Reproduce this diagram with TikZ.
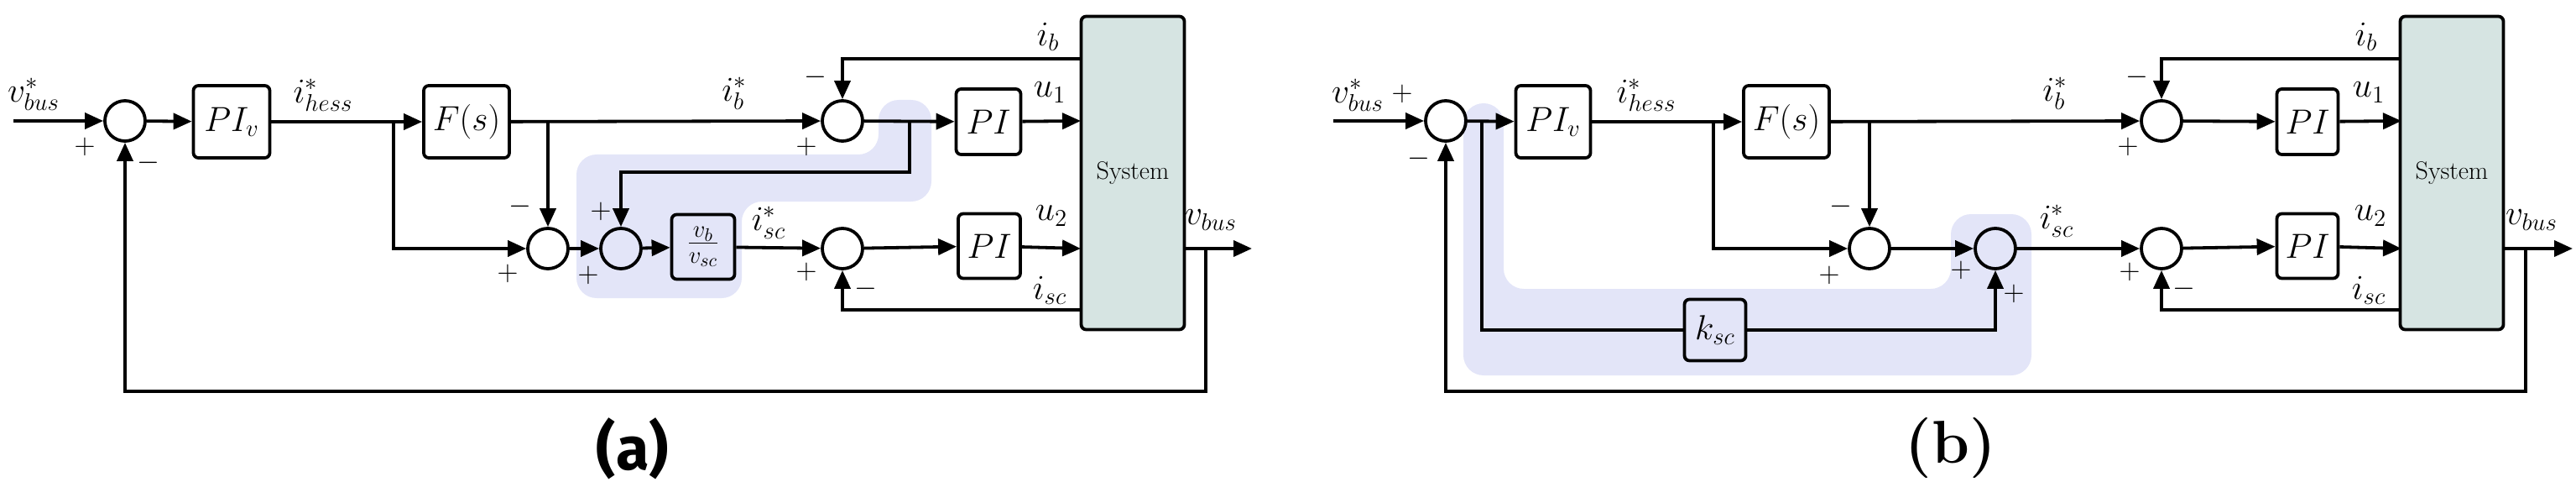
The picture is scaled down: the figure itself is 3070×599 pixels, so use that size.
\documentclass[tikz,border=0pt]{standalone}
\usepackage{fontspec}
\newfontfamily\capsans{Fira Sans}
\usetikzlibrary{arrows.meta}
\begin{document}
\begin{tikzpicture}[x=0.5pt,y=-0.5pt,
  sig/.style={line width=1.9pt,-{Triangle[length=11pt,width=9.5pt]}},
  ln/.style={line width=1.9pt},
  sum/.style={circle,draw,line width=1.9pt,minimum size=24pt,inner sep=0pt},
  blk/.style={draw,line width=1.9pt,rounded corners=3pt,inner sep=0pt,font=\fontsize{22}{26}\selectfont},
  sys/.style={draw,line width=1.9pt,rounded corners=3pt,fill=sysc,minimum width=61.5pt,minimum height=186.5pt,font=\fontsize{15}{18}\selectfont},
  lab/.style={font=\fontsize{20}{24}\selectfont,inner sep=0pt},
  sg/.style={font=\fontsize{18}{20}\selectfont,inner sep=0pt},
  hl/.style={fill=hlc,draw=none,rounded corners=12pt}]
\definecolor{sysc}{HTML}{D6E4E2}
\definecolor{hlc}{HTML}{E3E5F8}
\useasboundingbox (0,0) rectangle (3070,599);
% ---------------- panel (a) ----------------
\fill[hl] (1047,119) -- (1110,119) -- (1110,240) -- (884,240) -- (884,355) -- (687,355) -- (687,184) -- (1047,184) -- cycle;
\node[sum] (a1) at (149,144) {};
\node[blk,minimum width=45.5pt,minimum height=43pt] (aPIv) at (276,145) {$PI_v$};
\node[blk,minimum width=51pt,minimum height=43pt] (aF) at (556,145) {$F(s)$};
\node[sum] (a2) at (1004,144) {};
\node[blk,minimum width=38.5pt,minimum height=39pt] (aPI1) at (1178,145) {$PI$};
\node[sys] (aS) at (1350,206) {System};
\node[sum] (a3) at (653,296) {};
\node[sum] (a4) at (740,296) {};
\node[blk,minimum width=37.5pt,minimum height=38.5pt] (aK) at (838,294) {$\frac{v_b}{v_{sc}}$};
\node[sum] (a5) at (1004,296) {};
\node[blk,minimum width=37pt,minimum height=38.5pt] (aPI2) at (1179,293) {$PI$};
\coordinate (ain) at (16,144);
\coordinate (ah) at (469,144);
\coordinate (af) at (653,144);
\coordinate (ab) at (1084,144);
\coordinate (aib) at (1288,70);
\coordinate (au1) at (1288,144);
\coordinate (au2) at (1288,296);
\coordinate (aisc) at (1288,369);
\coordinate (avo) at (1411,296);
\coordinate (avb) at (1437,296);
\coordinate (aout) at (1492,296);
\draw[sig] (ain) -- (a1);
\draw[sig] (a1) -- (aPIv);
\draw[sig] (aPIv) -- (aF);
\draw[sig] (ah) |- (a3);
\draw[sig] (aF) -- (a2);
\draw[sig] (af) -- (a3);
\draw[sig] (a2) -- (aPI1);
\draw[sig] (ab) -- (1084,205) -| (a4);
\draw[sig] (aib) -| (a2);
\draw[sig] (aPI1) -- (au1);
\draw[sig] (a3) -- (a4);
\draw[sig] (a4) -- (aK);
\draw[sig] (aK) -- (a5);
\draw[sig] (a5) -- (aPI2);
\draw[sig] (aPI2) -- (au2);
\draw[sig] (aisc) -| (a5);
\draw[sig] (avo) -- (aout);
\draw[sig] (avb) |- (149,466) -- (a1);
\node[lab] at (40,112) {$v^*_{bus}$};
\node[lab] at (385,113) {$i^*_{hess}$};
\node[lab] at (875,111) {$i^*_b$};
\node[lab] at (1249,44) {$i_b$};
\node[lab] at (1251,110) {$u_1$};
\node[lab] at (916,265) {$i^*_{sc}$};
\node[lab] at (1253,257) {$u_2$};
\node[lab] at (1251,346) {$i_{sc}$};
\node[lab] at (1443,262) {$v_{bus}$};
\node[sg] at (101,175) {$+$};
\node[sg] at (177,194) {$-$};
\node[sg] at (972,92) {$-$};
\node[sg] at (961,175) {$+$};
\node[sg] at (620,246) {$-$};
\node[sg] at (605,326) {$+$};
\node[sg] at (716,252) {$+$};
\node[sg] at (701,328) {$+$};
\node[sg] at (961,324) {$+$};
\node[sg] at (1032,344) {$-$};
\node[font=\fontsize{36}{40}\selectfont\capsans\bfseries] at (754,534) {(a)};
% ---------------- panel (b) ----------------
\fill[hl] (1744,123) -- (1792,123) -- (1792,344) -- (2325,344) -- (2325,255) -- (2421,255) -- (2421,447) -- (1744,447) -- cycle;
\node[sum] (b1) at (1723,144) {};
\node[blk,minimum width=44.5pt,minimum height=43pt] (bPIv) at (1851,145) {$PI_v$};
\node[blk,minimum width=51pt,minimum height=43pt] (bF) at (2129,145) {$F(s)$};
\node[sum] (b2) at (2576,144) {};
\node[blk,minimum width=36.5pt,minimum height=39pt] (bPI1) at (2750,145) {$PI$};
\node[sys] (bS) at (2922,206) {System};
\node[sum] (b3) at (2228,296) {};
\node[sum] (b4) at (2378,296) {};
\node[sum] (b5) at (2576,296) {};
\node[blk,minimum width=36.5pt,minimum height=38.5pt] (bPI2) at (2750,293) {$PI$};
\node[blk,minimum width=36.5pt,minimum height=36.5pt] (bK) at (2044,393) {$k_{sc}$};
\coordinate (bin) at (1589,144);
\coordinate (bk) at (1766,144);
\coordinate (bh) at (2042,144);
\coordinate (bf) at (2228,144);
\coordinate (bib) at (2862,70);
\coordinate (bu1) at (2862,144);
\coordinate (bu2) at (2862,296);
\coordinate (bisc) at (2862,369);
\coordinate (bvo) at (2983,296);
\coordinate (bvb) at (3010,296);
\coordinate (bout) at (3066,296);
\draw[sig] (bin) -- (b1);
\draw[sig] (b1) -- (bPIv);
\draw[sig] (bPIv) -- (bF);
\draw[sig] (bh) |- (b3);
\draw[sig] (bF) -- (b2);
\draw[sig] (bf) -- (b3);
\draw[sig] (b2) -- (bPI1);
\draw[ln] (bk) |- (bK);
\draw[sig] (bK) -| (b4);
\draw[sig] (bib) -| (b2);
\draw[sig] (bPI1) -- (bu1);
\draw[sig] (b3) -- (b4);
\draw[sig] (b4) -- (b5);
\draw[sig] (b5) -- (bPI2);
\draw[sig] (bPI2) -- (bu2);
\draw[sig] (bisc) -| (b5);
\draw[sig] (bvo) -- (bout);
\draw[sig] (bvb) |- (1723,466) -- (b1);
\node[lab] at (1618,113) {$v^*_{bus}$};
\node[lab] at (1962,113) {$i^*_{hess}$};
\node[lab] at (2449,111) {$i^*_b$};
\node[lab] at (2820,44) {$i_b$};
\node[lab] at (2823,110) {$u_1$};
\node[lab] at (2451,263) {$i^*_{sc}$};
\node[lab] at (2825,257) {$u_2$};
\node[lab] at (2823,346) {$i_{sc}$};
\node[lab] at (3017,262) {$v_{bus}$};
\node[sg] at (1671,112) {$+$};
\node[sg] at (1691,189) {$-$};
\node[sg] at (2547,92) {$-$};
\node[sg] at (2536,175) {$+$};
\node[sg] at (2194,246) {$-$};
\node[sg] at (2180,328) {$+$};
\node[sg] at (2337,322) {$+$};
\node[sg] at (2400,350) {$+$};
\node[sg] at (2538,324) {$+$};
\node[sg] at (2603,344) {$-$};
\node[font=\fontsize{36}{40}\selectfont\bfseries] at (2325,534) {(b)};
\end{tikzpicture}
\end{document}
